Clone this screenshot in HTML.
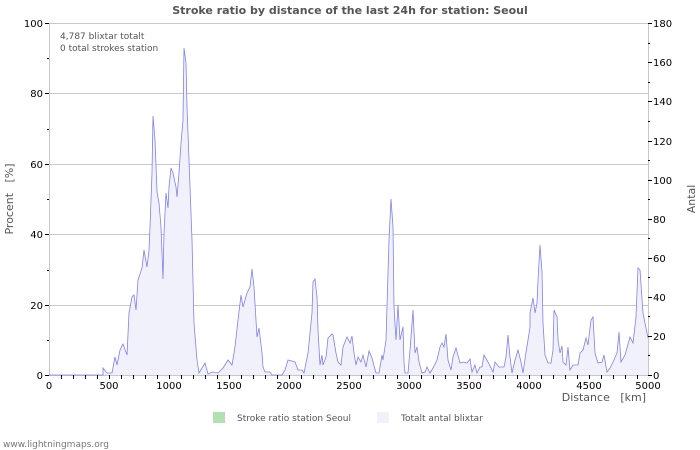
<!DOCTYPE html>
<html><head><meta charset="utf-8"><style>
body{margin:0;background:#fff;}
svg{display:block;font-family:"DejaVu Sans","Liberation Sans",sans-serif;}
</style></head><body>
<svg width="700" height="450" viewBox="0 0 700 450">
<defs>
<polyline id="d" points="49,375 103,375 103,368 107,373 112,373 115,357 117,365 120,350 123,344 127,355 129,313 132,297 134,295 136,310 138,280 142,268 144,250 147,267 149,250 150,227 152,173 153,116 155,140 157,192 159,203 161,227 163,279 164,233 166,193 168,208 169,187 171,168 173,173 176,187 177,197 179,173 181,143 183,120 184,48 186,63 187,107 189,160 192,240 194,323 197,360 199,373 205,363 208,374 213,372 218,373 223,368 228,360 232,365 235,347 238,320 241,295 243,307 247,293 250,287 252,269 254,287 257,337 259,328 262,353 263,367 265,372 270,372 272,375 282,375 285,370 288,360 295,362 298,370 302,370 304,373 308,353 312,313 313,282 315,279 317,297 318,330 320,365 322,355 323,365 326,357 328,338 332,334 333,335 336,353 338,362 341,365 343,347 347,337 350,343 352,336 354,353 356,365 358,357 361,362 363,355 366,367 369,351 372,358 373,362 376,373 379,373 382,355 383,360 386,340 388,273 389,240 391,199 393,227 394,307 396,340 398,305 400,340 403,327 404,362 405,373 408,373 410,350 413,310 415,353 417,347 419,362 422,373 425,372 427,367 430,373 433,368 437,360 440,347 442,343 444,347 446,334 448,360 451,370 453,357 456,348 460,363 463,362 467,363 470,359 472,372 475,365 477,373 480,367 482,367 484,355 488,362 493,372 495,362 499,367 504,367 506,357 508,335 510,357 512,373 515,360 518,350 521,362 523,373 526,352 528,340 530,327 530,313 533,298 535,313 537,303 538,280 540,245 542,272 543,323 545,355 548,363 551,363 553,350 554,310 557,317 558,340 560,353 562,346 563,362 566,365 568,347 570,370 573,365 578,365 580,353 583,350 586,338 588,345 591,320 593,317 595,353 598,363 602,362 604,355 607,372 610,368 613,362 617,353 619,332 621,362 625,355 627,348 630,337 633,343 636,317 638,268 640,270 643,313 645,323 648,338"/>
</defs>
<rect width="700" height="450" fill="#fff"/>
<text x="350" y="14" text-anchor="middle" font-size="11" font-weight="bold" fill="#555">Stroke ratio by distance of the last 24h for station: Seoul</text>
<g stroke="#c8c8c8" stroke-width="1">
<line x1="49" y1="23.5" x2="648" y2="23.5"/>
<line x1="49" y1="93.5" x2="648" y2="93.5"/>
<line x1="49" y1="164.5" x2="648" y2="164.5"/>
<line x1="49" y1="234.5" x2="648" y2="234.5"/>
<line x1="49" y1="305.5" x2="648" y2="305.5"/>
<line x1="49.5" y1="23" x2="49.5" y2="375"/>
<line x1="648.5" y1="23" x2="648.5" y2="375"/>
<line x1="49" y1="375.5" x2="648" y2="375.5"/>
</g>
<polygon fill="#f1f1fc" points="49,375 103,375 103,368 107,373 112,373 115,357 117,365 120,350 123,344 127,355 129,313 132,297 134,295 136,310 138,280 142,268 144,250 147,267 149,250 150,227 152,173 153,116 155,140 157,192 159,203 161,227 163,279 164,233 166,193 168,208 169,187 171,168 173,173 176,187 177,197 179,173 181,143 183,120 184,48 186,63 187,107 189,160 192,240 194,323 197,360 199,373 205,363 208,374 213,372 218,373 223,368 228,360 232,365 235,347 238,320 241,295 243,307 247,293 250,287 252,269 254,287 257,337 259,328 262,353 263,367 265,372 270,372 272,375 282,375 285,370 288,360 295,362 298,370 302,370 304,373 308,353 312,313 313,282 315,279 317,297 318,330 320,365 322,355 323,365 326,357 328,338 332,334 333,335 336,353 338,362 341,365 343,347 347,337 350,343 352,336 354,353 356,365 358,357 361,362 363,355 366,367 369,351 372,358 373,362 376,373 379,373 382,355 383,360 386,340 388,273 389,240 391,199 393,227 394,307 396,340 398,305 400,340 403,327 404,362 405,373 408,373 410,350 413,310 415,353 417,347 419,362 422,373 425,372 427,367 430,373 433,368 437,360 440,347 442,343 444,347 446,334 448,360 451,370 453,357 456,348 460,363 463,362 467,363 470,359 472,372 475,365 477,373 480,367 482,367 484,355 488,362 493,372 495,362 499,367 504,367 506,357 508,335 510,357 512,373 515,360 518,350 521,362 523,373 526,352 528,340 530,327 530,313 533,298 535,313 537,303 538,280 540,245 542,272 543,323 545,355 548,363 551,363 553,350 554,310 557,317 558,340 560,353 562,346 563,362 566,365 568,347 570,370 573,365 578,365 580,353 583,350 586,338 588,345 591,320 593,317 595,353 598,363 602,362 604,355 607,372 610,368 613,362 617,353 619,332 621,362 625,355 627,348 630,337 633,343 636,317 638,268 640,270 643,313 645,323 648,338 648,375"/>
<use href="#d" fill="none" stroke="#8080f0" stroke-width="0.8"/>
<g stroke="#000" stroke-width="1">
<path d="M49,375.5h-4 M49,340.5h-2 M49,305.5h-4 M49,270.5h-2 M49,234.5h-4 M49,199.5h-2 M49,164.5h-4 M49,129.5h-2 M49,93.5h-4 M49,58.5h-2 M49,23.5h-4"/>
<path d="M648,375.5h4 M648,355.5h2 M648,336.5h4 M648,316.5h2 M648,297.5h4 M648,277.5h2 M648,258.5h4 M648,238.5h2 M648,219.5h4 M648,199.5h2 M648,180.5h4 M648,160.5h2 M648,141.5h4 M648,121.5h2 M648,101.5h4 M648,82.5h2 M648,62.5h4 M648,43.5h2 M648,23.5h4"/>
<path d="M61.5,375v4 M73.5,375v4 M85.5,375v4 M97.5,375v4 M109.5,375v4 M121.5,375v4 M133.5,375v4 M145.5,375v4 M157.5,375v4 M169.5,375v4 M181.5,375v4 M193.5,375v4 M205.5,375v4 M217.5,375v4 M229.5,375v4 M241.5,375v4 M253.5,375v4 M265.5,375v4 M277.5,375v4 M289.5,375v4 M301.5,375v4 M313.5,375v4 M325.5,375v4 M337.5,375v4 M349.5,375v4 M361.5,375v4 M373.5,375v4 M385.5,375v4 M397.5,375v4 M409.5,375v4 M421.5,375v4 M433.5,375v4 M445.5,375v4 M457.5,375v4 M469.5,375v4 M481.5,375v4 M493.5,375v4 M505.5,375v4 M517.5,375v4 M529.5,375v4 M541.5,375v4 M553.5,375v4 M565.5,375v4 M577.5,375v4 M589.5,375v4 M601.5,375v4 M613.5,375v4 M625.5,375v4 M637.5,375v4"/>
</g>
<g font-size="10" fill="#000" text-anchor="end">
<text x="43" y="379">0</text><text x="43" y="309">20</text><text x="43" y="238">40</text><text x="43" y="168">60</text><text x="43" y="97">80</text><text x="43" y="27">100</text>
</g>
<g font-size="10" fill="#000">
<text x="653" y="379">0</text><text x="653" y="340">20</text><text x="653" y="301">40</text><text x="653" y="262">60</text><text x="653" y="223">80</text><text x="653" y="184">100</text><text x="653" y="145">120</text><text x="653" y="105">140</text><text x="653" y="66">160</text><text x="653" y="27">180</text>
</g>
<g font-size="10" fill="#000" text-anchor="middle">
<text x="49" y="389">0</text><text x="109" y="389">500</text><text x="169" y="389">1000</text><text x="229" y="389">1500</text><text x="289" y="389">2000</text><text x="349" y="389">2500</text><text x="409" y="389">3000</text><text x="469" y="389">3500</text><text x="529" y="389">4000</text><text x="589" y="389">4500</text><text x="648" y="389">5000</text>
</g>
<text x="646" y="401" font-size="11" fill="#555" text-anchor="end">Distance&#160;&#160;&#160;[km]</text>
<text transform="translate(13,199) rotate(-90)" font-size="11" fill="#555" text-anchor="middle">Procent&#160;&#160;&#160;[%]</text>
<text transform="translate(695,199) rotate(-90)" font-size="11" fill="#555" text-anchor="middle">Antal</text>
<text x="60" y="39" font-size="9" fill="#555">4,787 blixtar totalt</text>
<text x="60" y="51" font-size="9" fill="#555">0 total strokes station</text>
<rect x="213" y="412" width="12" height="11" fill="#b3e0b3"/>
<text x="237" y="421" font-size="9" fill="#555">Stroke ratio station Seoul</text>
<rect x="377" y="412" width="12" height="11" fill="#f1f1fc"/>
<text x="401" y="421" font-size="9" fill="#555">Totalt antal blixtar</text>
<text x="3" y="447" font-size="9" fill="#777">www.lightningmaps.org</text>
</svg>
</body></html>
